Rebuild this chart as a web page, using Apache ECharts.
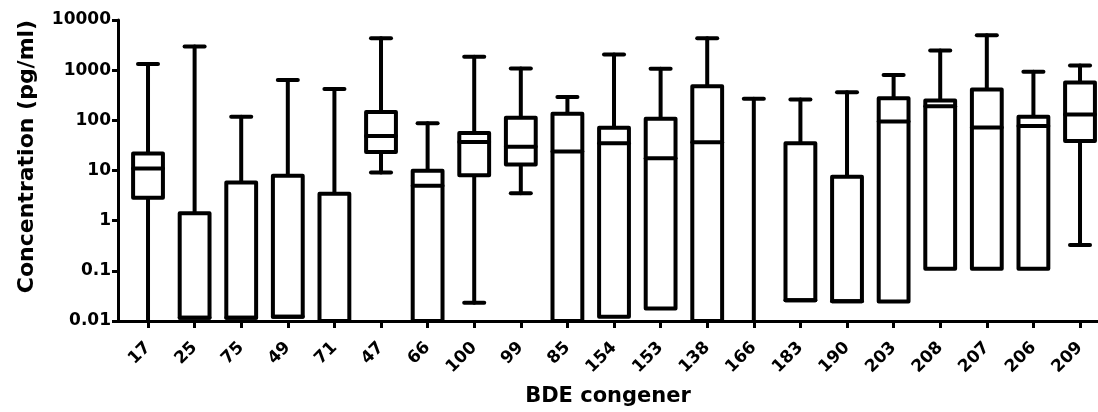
<!DOCTYPE html>
<html>
<head>
<meta charset="utf-8">
<script src="https://cdn.jsdelivr.net/npm/echarts@6/dist/echarts.min.js"></script>
<style>
  html, body { margin: 0; padding: 0; background: #fff; }
  #main { width: 1098px; height: 412px; }
</style>
</head>
<body>
<div id="main"></div>
<script>
// BDE congeners, box = quartiles, whiskers = min/max (values below 0.01 fall under the axis)
var categories = ['17', '25', '75', '49', '71', '47', '66', '100', '99', '85', '154',
  '153', '138', '166', '183', '190', '203', '208', '207', '206', '209'];
var maxVals = [1320, 2960, 118, 637, 422, 4340, 87, 1850, 1080, 293, 2050,
  1070, 4340, 268, 259, 362, 802, 2470, 4970, 931, 1240];
var q3Vals = [21.7, 1.40, 5.78, 7.83, 3.44, 146, 9.84, 55.7, 112, 135, 71.3,
  107, 476, 0.005, 34.8, 7.48, 275, 248, 410, 118, 571];
var medianVals = [11.0, 0.0116, 0.0116, 0.0122, 0.005, 48.6, 4.96, 36.9, 29.9, 23.8, 34.8,
  17.5, 36.4, 0.005, 0.026, 0.0248, 95, 191, 72.3, 76.7, 131];
var q1Vals = [2.87, 0.0116, 0.0116, 0.0122, 0.005, 23.4, 0.005, 8.07, 13.2, 0.005, 0.0122,
  0.0178, 0.005, 0.005, 0.026, 0.0248, 0.0246, 0.11, 0.11, 0.11, 38.7];
var minVals = [0.005, 0.0116, 0.0116, 0.0122, 0.005, 9.1, 0.005, 0.0231, 3.50, 0.005, 0.0122,
  0.0178, 0.005, 0.005, 0.026, 0.0248, 0.0246, 0.11, 0.11, 0.11, 0.326];
var yTickValues = [0.01, 0.1, 1, 10, 100, 1000, 10000];

var yMin = 0.01, yMax = 10000;
var fontFamily = 'DejaVu Sans';

var boxData = categories.map(function (c, i) {
  return [i, minVals[i], q1Vals[i], medianVals[i], q3Vals[i], maxVals[i]];
});
var xTicks = categories.map(function (c, i) { return i; });

function renderBox(params, api) {
  var cs = params.coordSys;
  var bottom = cs.y + cs.height;
  var x = api.value(0);
  var unit = api.size([1, 1])[0];
  var boxW = unit * 0.64;
  var capW = unit * 0.43;
  var cx = api.coord([x, 1])[0];
  function py(v) { return Math.min(api.coord([x, v])[1], bottom); }
  var vMin = api.value(1), vQ1 = api.value(2), vMed = api.value(3), vQ3 = api.value(4), vMax = api.value(5);
  var lineStyle = { stroke: '#000', lineWidth: 4, lineCap: 'round', fill: null };
  var children = [];
  // upper whisker
  if (vMax > vQ3) {
    children.push({ type: 'line', shape: { x1: cx, y1: py(vQ3), x2: cx, y2: py(vMax) }, style: lineStyle });
    if (vMax >= yMin) {
      children.push({ type: 'line', shape: { x1: cx - capW / 2, y1: py(vMax), x2: cx + capW / 2, y2: py(vMax) }, style: lineStyle });
    }
  }
  // lower whisker
  if (vMin < vQ1 && py(vMin) > py(vQ1)) {
    children.push({ type: 'line', shape: { x1: cx, y1: py(vQ1), x2: cx, y2: py(vMin) }, style: lineStyle });
    if (vMin >= yMin) {
      children.push({ type: 'line', shape: { x1: cx - capW / 2, y1: py(vMin), x2: cx + capW / 2, y2: py(vMin) }, style: lineStyle });
    }
  }
  // box
  if (vQ3 >= yMin) {
    children.push({
      type: 'rect',
      shape: { x: cx - boxW / 2, y: py(vQ3), width: boxW, height: py(vQ1) - py(vQ3) },
      style: { stroke: '#000', lineWidth: 4, fill: '#fff', lineJoin: 'round' }
    });
  }
  // median
  if (vMed >= yMin) {
    children.push({ type: 'line', shape: { x1: cx - boxW / 2, y1: py(vMed), x2: cx + boxW / 2, y2: py(vMed) }, style: lineStyle });
  }
  return { type: 'group', children: children };
}

var chartDom = document.getElementById('main');
var myChart = echarts.init(chartDom, null, { renderer: 'canvas' });
var option;

option = {
  animation: false,
  backgroundColor: '#fff',
  grid: { left: 118, right: 0, top: 20, bottom: 89 },
  xAxis: {
    type: 'value',
    min: -0.644,
    max: 20.386,
    name: 'BDE congener',
    nameLocation: 'middle',
    nameGap: 65,
    nameTextStyle: { fontFamily: fontFamily, fontWeight: 'bold', fontSize: 21, color: '#000' },
    axisLine: { show: true, onZero: false, lineStyle: { color: '#000', width: 3 } },
    axisTick: { show: true, length: 7, customValues: xTicks, lineStyle: { color: '#000', width: 3 } },
    axisLabel: {
      customValues: xTicks,
      rotate: 45,
      margin: 24,
      fontFamily: fontFamily,
      fontWeight: 'bold',
      fontSize: 17,
      color: '#000',
      formatter: function (v) { return categories[Math.round(v)]; }
    },
    splitLine: { show: false }
  },
  yAxis: {
    type: 'log',
    logBase: 10,
    min: yMin,
    max: yMax,
    name: 'Concentration (pg/ml)',
    nameLocation: 'middle',
    nameGap: 80,
    nameTextStyle: { fontFamily: fontFamily, fontWeight: 'bold', fontSize: 22, color: '#000', padding: [0, 0, 0, 28] },
    axisLine: { show: true, onZero: false, lineStyle: { color: '#000', width: 3 } },
    axisTick: { show: true, length: 6, customValues: yTickValues, lineStyle: { color: '#000', width: 3 } },
    axisLabel: {
      customValues: yTickValues,
      margin: 7,
      fontFamily: fontFamily,
      fontWeight: 'bold',
      fontSize: 17,
      color: '#000',
      formatter: function (v) { return String(parseFloat(Number(v).toPrecision(4))); }
    },
    splitLine: { show: false }
  },
  series: [
    {
      type: 'custom',
      clip: true,
      renderItem: renderBox,
      encode: { x: 0, y: [1, 2, 3, 4, 5] },
      data: boxData
    }
  ]
};

option && myChart.setOption(option);
</script>
</body>
</html>
